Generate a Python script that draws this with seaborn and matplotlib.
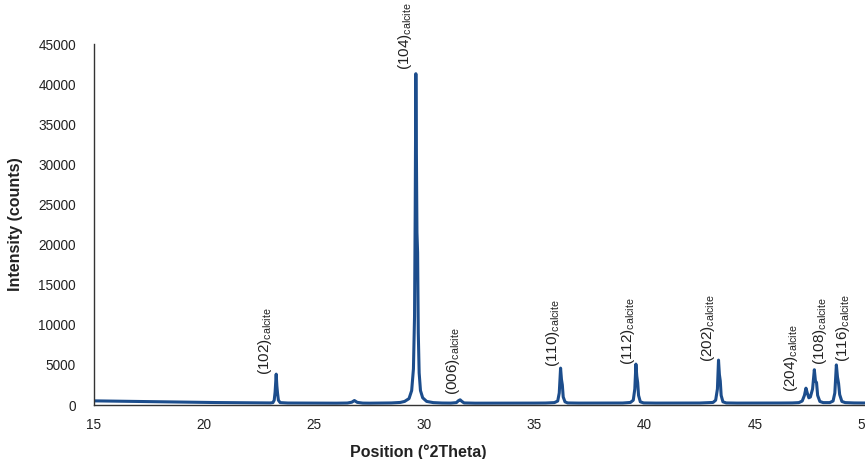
import matplotlib
matplotlib.use("Agg")
import matplotlib.pyplot as plt
import seaborn as sns
import pandas as pd

# ---- data ----
two_theta = [
    15.0, 15.5, 16.0, 16.5, 17.0, 17.5, 18.0, 18.5, 19.0, 19.5, 20.0, 20.5, 21.0, 21.5, 22.0, 22.5, 23.0,
    23.12, 23.18, 23.22, 23.27, 23.30, 23.33, 23.37, 23.45,
    23.8, 24.5, 25.0, 25.5, 26.0, 26.5, 26.7, 26.82, 26.95, 27.2, 27.5, 28.0, 28.5, 28.9,
    29.1, 29.3, 29.42, 29.5, 29.55, 29.58, 29.61, 29.63, 29.66, 29.69, 29.72, 29.76, 29.82, 29.92, 30.1, 30.4,
    30.8, 31.2, 31.45, 31.55, 31.62, 31.7, 31.8, 32.3, 33.0, 33.5, 34.0, 34.5, 35.0, 35.5, 35.9,
    36.05, 36.12, 36.18, 36.22, 36.26, 36.3, 36.38, 36.5,
    37.0, 37.5, 38.0, 38.5, 39.0, 39.35,
    39.48, 39.55, 39.60, 39.64, 39.68, 39.72, 39.8, 39.95,
    40.5, 41.0, 41.5, 42.0, 42.5, 43.1,
    43.22, 43.3, 43.35, 43.39, 43.43, 43.47, 43.55, 43.7,
    44.2, 44.7, 45.2, 45.7, 46.2, 46.7, 47.0,
    47.15, 47.25, 47.32, 47.38, 47.45, 47.52,
    47.62, 47.7, 47.75, 47.8, 47.85, 47.95, 48.1, 48.4,
    48.55, 48.63, 48.7, 48.75, 48.8, 48.85, 48.95, 49.1, 49.5, 50.0,
]
intensity = [
    520, 500, 480, 470, 450, 430, 400, 380, 360, 340, 330, 310, 300, 290, 280, 270, 260,
    300, 600, 1600, 3850, 2400, 1500, 600, 300,
    250, 240, 230, 230, 230, 250, 350, 560, 330, 240, 230, 240, 260, 320,
    450, 800, 1800, 4500, 11000, 24000, 41300, 33000, 21500, 19000, 9000, 4000, 1800, 900, 450, 300,
    250, 240, 300, 550, 650, 450, 260, 230, 230, 230, 230, 230, 240, 250, 300,
    500, 1500, 4600, 3200, 2500, 1000, 400, 260,
    240, 240, 240, 240, 250, 320,
    600, 2000, 5100, 3600, 2800, 1200, 400, 260,
    240, 240, 240, 240, 250, 320,
    600, 2000, 5600, 3800, 3000, 1200, 400, 260,
    240, 240, 240, 240, 250, 260, 300,
    500, 1200, 2100, 1500, 900, 1000,
    2000, 4400, 3000, 2800, 1200, 450, 300, 300,
    500, 1500, 5000, 3500, 2700, 1300, 450, 300, 260, 250,
]

peak_labels = ["(102)", "(104)", "(006)", "(110)", "(112)", "(202)", "(204)", "(108)", "(116)"]
label_x = [22.76, 29.12, 31.30, 35.84, 39.24, 42.87, 46.64, 47.96, 49.0]
label_y = [3700, 41800, 1250, 4750, 5000, 5400, 1650, 5000, 5400]

x_ticks = [15, 20, 25, 30, 35, 40, 45, 50]
y_ticks = [0, 5000, 10000, 15000, 20000, 25000, 30000, 35000, 40000, 45000]

# ---- plotting ----
sns.set_theme(style="white")
plt.rcParams["font.family"] = ["Liberation Sans", "DejaVu Sans"]
plt.rcParams["mathtext.fontset"] = "custom"
plt.rcParams["mathtext.rm"] = "Liberation Sans"

df = pd.DataFrame({"two_theta": two_theta, "intensity": intensity})

fig = plt.figure(figsize=(8.65, 4.59), dpi=100)
ax = fig.add_axes([0.1087, 0.1176, 0.8913, 0.7865])

sns.lineplot(data=df, x="two_theta", y="intensity", ax=ax, color="#1c4d8c",
             linewidth=2.2, estimator=None, sort=False)

ax.set_xlim(15, 50)
ax.set_ylim(0, 45000)
ax.set_xticks(x_ticks)
ax.set_yticks(y_ticks)
ax.tick_params(axis="both", length=0, labelsize=9.8, colors="#222222")
ax.tick_params(axis="y", pad=13)
ax.tick_params(axis="x", pad=9)

for side in ["top", "right"]:
    ax.spines[side].set_visible(False)
for side in ["left", "bottom"]:
    ax.spines[side].set_color("#333333")
    ax.spines[side].set_linewidth(1.0)

ax.set_xlabel("Position (°2Theta)", fontsize=11.5, fontweight="bold", color="#222222")
ax.set_ylabel("Intensity (counts)", fontsize=11.5, fontweight="bold", color="#222222")
ax.xaxis.set_label_coords(0.42, -0.11)
ax.yaxis.set_label_coords(-0.092, 0.5)

for lab, lx, ly in zip(peak_labels, label_x, label_y):
    ax.text(lx, ly, lab + r"$_{\mathregular{calcite}}$", rotation=90,
            ha="center", va="bottom", fontsize=11, color="#222222",
            clip_on=False)

fig.savefig("out.png", dpi=100)
